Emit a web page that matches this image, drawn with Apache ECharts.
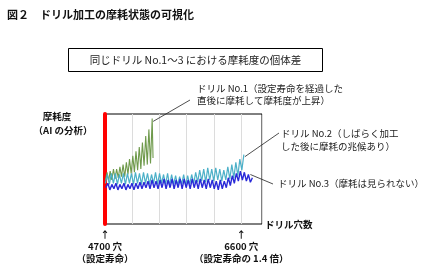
<!DOCTYPE html>
<html><head><meta charset="utf-8">
<script src="https://cdn.jsdelivr.net/npm/echarts@6/dist/echarts.min.js"></script>
<style>html,body{margin:0;padding:0;background:#fff}#c{width:438px;height:278px}</style>
</head><body><div id="c"></div>
<script>
// x: drill holes, y: wear degree (AI analysis, 0-100 relative)
const markerHoles = [4700, 6600];
const markerNotes = ['設定寿命', '設定寿命の 1.4 倍'];

const no1Holes = [4705,4728,4750,4772,4795,4818,4840,4862,4885,4908,4930,4952,4975,4998,5020,5042,5065,5088,5110,5132,5155,5178,5200,5222,5245,5268,5290,5312,5335,5358,5370];
const no1Wear  = [40,47,39,48,40,50,41,50,42,52,43,54,43,56,45,59,46,62,47,66,49,70,50,74,53,80,54,86,55,96,60];

const no2Holes = [4705,4733,4761,4789,4817,4845,4873,4901,4929,4957,4985,5013,5041,5069,5097,5125,5153,5181,5209,5237,5265,5293,5321,5349,5377,5405,5433,5461,5489,5517,5545,5573,5601,5629,5657,5685,5713,5741,5769,5797,5825,5853,5881,5909,5937,5965,5993,6021,6049,6077,6105,6133,6161,6189,6217,6245,6273,6301,6329,6357,6385,6413,6441,6469,6497,6525,6553,6581,6609,6637];
const no2Wear  = [37,45,36,46,37,46,36,45,37,46,36,46,37,46,36,47,37,46,36,47,37,46,36,45,37,47,36,46,37,45,36,46,35,45,36,44,35,43,36,45,35,44,36,45,37,47,38,49,39,50,38,51,40,50,39,51,40,50,39,49,40,52,41,54,42,56,44,59,49,63];

const no3Holes = [4712,4740,4768,4796,4824,4852,4880,4908,4936,4964,4992,5020,5048,5076,5104,5132,5160,5188,5216,5244,5272,5300,5328,5356,5384,5412,5440,5468,5496,5524,5552,5580,5608,5636,5664,5692,5720,5748,5776,5804,5832,5860,5888,5916,5944,5972,6000,6028,6056,6084,6112,6140,6168,6196,6224,6252,6280,6308,6336,6364,6392,6420,6448,6476,6504,6532,6560,6588,6616,6644,6672,6700,6728,6756];
const no3Wear  = [33,37,31,36,32,37,31,36,32,37,31,36,32,37,31,37,32,38,32,38,33,39,32,40,33,39,32,40,33,41,32,40,33,41,32,40,33,41,32,41,33,40,32,41,33,40,32,41,33,40,32,41,33,40,32,39,31,40,32,39,33,42,35,44,37,46,39,48,40,47,39,45,38,42];

const zip = (xs, ys) => xs.map((x, i) => [x, ys[i]]);
const JP = '"Noto Sans CJK JP", sans-serif';

const chart = echarts.init(document.getElementById('c'), null, {renderer: 'canvas'});
chart.setOption({
  animation: false,
  backgroundColor: '#fff',
  grid: {left: 105, top: 114, right: 176, bottom: 54, show: true, borderColor: '#000', borderWidth: 1, containLabel: false},
  xAxis: {
    type: 'value', min: 4700, max: 6890, interval: 380,
    axisLine: {show: false}, axisTick: {show: false},
    splitLine: {show: true, lineStyle: {color: '#dcdcdc', width: 1}},
    axisLabel: {
      show: true, interval: 0, showMaxLabel: false, margin: 4,
      fontFamily: JP, fontSize: 9.5, fontWeight: 'bold', color: '#111', lineHeight: 12,
      formatter: function (v) {
        for (let i = 0; i < markerHoles.length; i++) {
          if (Math.abs(v - markerHoles[i]) < 1) return '↑\n' + markerHoles[i] + ' 穴\n（' + markerNotes[i] + '）';
        }
        return '';
      }
    },
    name: 'ドリル穴数', nameLocation: 'end', nameGap: 3, nameMoveOverlap: false,
    nameTextStyle: {fontFamily: JP, fontSize: 9.5, fontWeight: 'bold', color: '#111'}
  },
  yAxis: {
    type: 'value', min: 0, max: 100,
    axisLine: {show: true, lineStyle: {color: '#ff0000', width: 4}},
    axisTick: {show: false}, axisLabel: {show: false}, splitLine: {show: false}
  },
  series: [
    {name: 'ドリル No.1', type: 'line', data: zip(no1Holes, no1Wear), showSymbol: false, lineStyle: {color: '#6f9a4c', width: 1.1}, z: 2},
    {name: 'ドリル No.2', type: 'line', data: zip(no2Holes, no2Wear), showSymbol: false, lineStyle: {color: '#4cb0c8', width: 1.2}, z: 3},
    {name: 'ドリル No.3', type: 'line', data: zip(no3Holes, no3Wear), showSymbol: false, lineStyle: {color: '#2a2ad8', width: 1.4}, z: 4}
  ]
});

function peak(xs, ys) { let k = 0; ys.forEach((v, i) => { if (v > ys[k]) k = i; }); return [xs[k], ys[k]]; }
const p1 = chart.convertToPixel({gridIndex: 0}, peak(no1Holes, no1Wear));
const p2 = chart.convertToPixel({gridIndex: 0}, peak(no2Holes, no2Wear));
const p3 = chart.convertToPixel({gridIndex: 0}, [no3Holes[no3Holes.length - 3], no3Wear[no3Wear.length - 3]]);

const txt = (x, y, s, opt) => Object.assign({type: 'text', x: x, y: y, style: Object.assign({text: s, font: 'normal 9.5px ' + JP, fill: '#222', textVerticalAlign: 'middle', textAlign: 'left'}, opt || {})});
chart.setOption({
  graphic: [
    txt(7, 15, '図２　ドリル加工の摩耗状態の可視化', {font: 'bold 11px ' + JP, fill: '#111'}),
    {type: 'rect', shape: {x: 68.5, y: 48.5, width: 254, height: 23}, style: {fill: 'none', stroke: '#000', lineWidth: 1}},
    txt(195.5, 60.5, '同じドリル No.1〜3 における摩耗度の個体差', {font: 'normal 10.5px ' + JP, textAlign: 'center'}),
    txt(57, 116, '摩耗度', {font: 'bold 9.5px ' + JP, textAlign: 'center', fill: '#111'}),
    txt(63, 130, '（AI の分析）', {font: 'bold 9.5px ' + JP, textAlign: 'center', fill: '#111'}),
    txt(197, 88, 'ドリル No.1（設定寿命を経過した'),
    txt(197, 100, '直後に摩耗して摩耗度が上昇）'),
    txt(281, 133, 'ドリル No.2（しばらく加工'),
    txt(281, 146, 'した後に摩耗の兆候あり）'),
    txt(278, 183, 'ドリル No.3（摩耗は見られない）'),
    {type: 'line', shape: {x1: p1[0] + 1, y1: p1[1] + 3, x2: 190, y2: 100}, style: {stroke: '#222', lineWidth: 0.8}},
    {type: 'line', shape: {x1: p2[0] + 1, y1: p2[1] + 2, x2: 279, y2: 133}, style: {stroke: '#222', lineWidth: 0.8}},
    {type: 'line', shape: {x1: p3[0] + 2, y1: p3[1], x2: 273, y2: 184}, style: {stroke: '#222', lineWidth: 0.8}}
  ]
});
</script>
</body></html>
